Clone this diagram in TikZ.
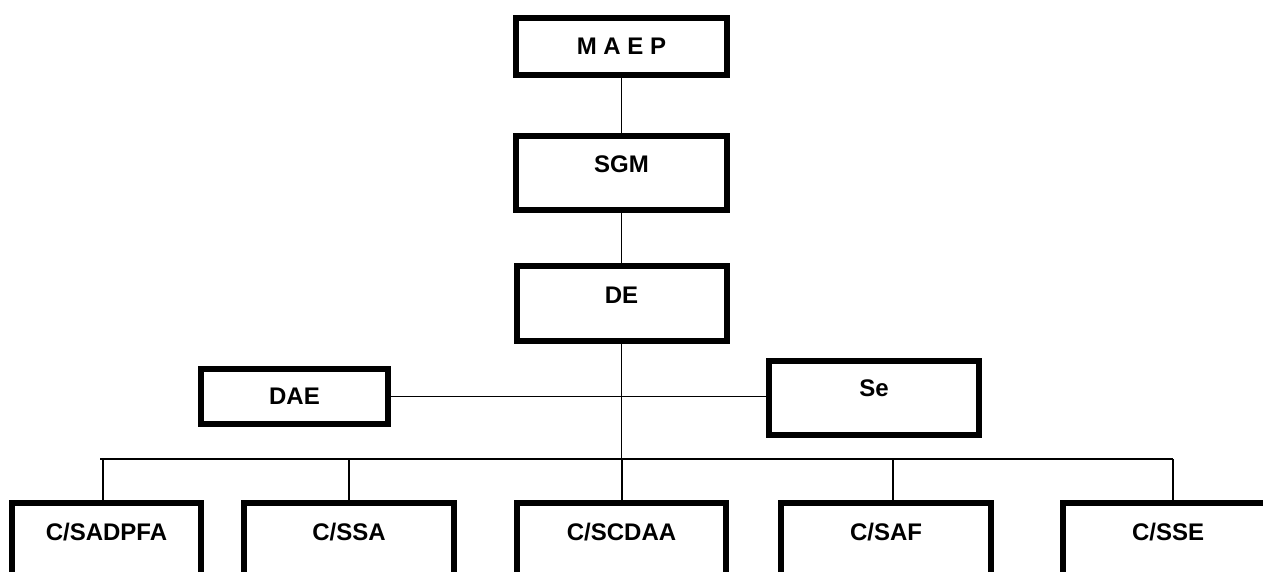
\documentclass[tikz,border=0pt]{standalone}
\usepackage{fontspec}
\setmainfont{Liberation Sans}
\usetikzlibrary{positioning}

\begin{document}
\begin{tikzpicture}[
    x=1pt, y=-1pt,
    box/.style={draw=black, line width=6pt, fill=white, inner sep=0pt,
                font=\fontsize{24}{29}\selectfont\bfseries},
    unit/.style={box, minimum height=140pt, text depth=82pt},
    link/.style={draw=black, line width=1.7pt}
]
    \clip (0,0) rectangle (1263,572);
    \fill[white] (0,0) rectangle (1263,572);

    % top of the chart
    \node[box, minimum width=211pt, minimum height=57pt] (maep) at (621.5,46.5) {M A E P};
    \node[box, minimum width=211pt, minimum height=74pt, text depth=18pt, below=55pt of maep] (sgm) {SGM};
    \node[box, minimum width=210pt, minimum height=75pt, text depth=17pt, below=50pt of sgm] (de) {DE};

    % side boxes
    \node[box, minimum width=187pt, minimum height=55pt] (dae) at (294.5,396.5) {DAE};
    \node[box, minimum width=210pt, minimum height=74pt, text depth=20pt] (se) at (874,398) {Se};

    % services
    \node[unit, minimum width=189pt] (c1) at (106.5,573) {C/SADPFA};
    \node[unit, minimum width=210pt] (c2) at (349,573) {C/SSA};
    \node[unit, minimum width=209pt] (c3) at (621.5,573) {C/SCDAA};
    \node[unit, minimum width=210pt] (c4) at (886,573) {C/SAF};
    \node[unit, minimum width=210pt] (c5) at (1168,573) {C/SSE};

    \coordinate (busW) at (100,459);
    \coordinate (busE) at (1173,459);

    \draw[link] (maep) -- (sgm);
    \draw[link] (sgm) -- (de);
    \draw[link] (de) -- (de |- busW);
    \draw[link] (dae) -- (dae -| se.west);
    \draw[link] (busW) -- (busE);
    \foreach \n/\dx in {c1/-3.5, c2/0, c3/0.5, c4/7, c5/5}
        \draw[link] ([xshift=\dx pt]\n.north) -- ([xshift=\dx pt]\n.north |- busW);
\end{tikzpicture}
\end{document}
